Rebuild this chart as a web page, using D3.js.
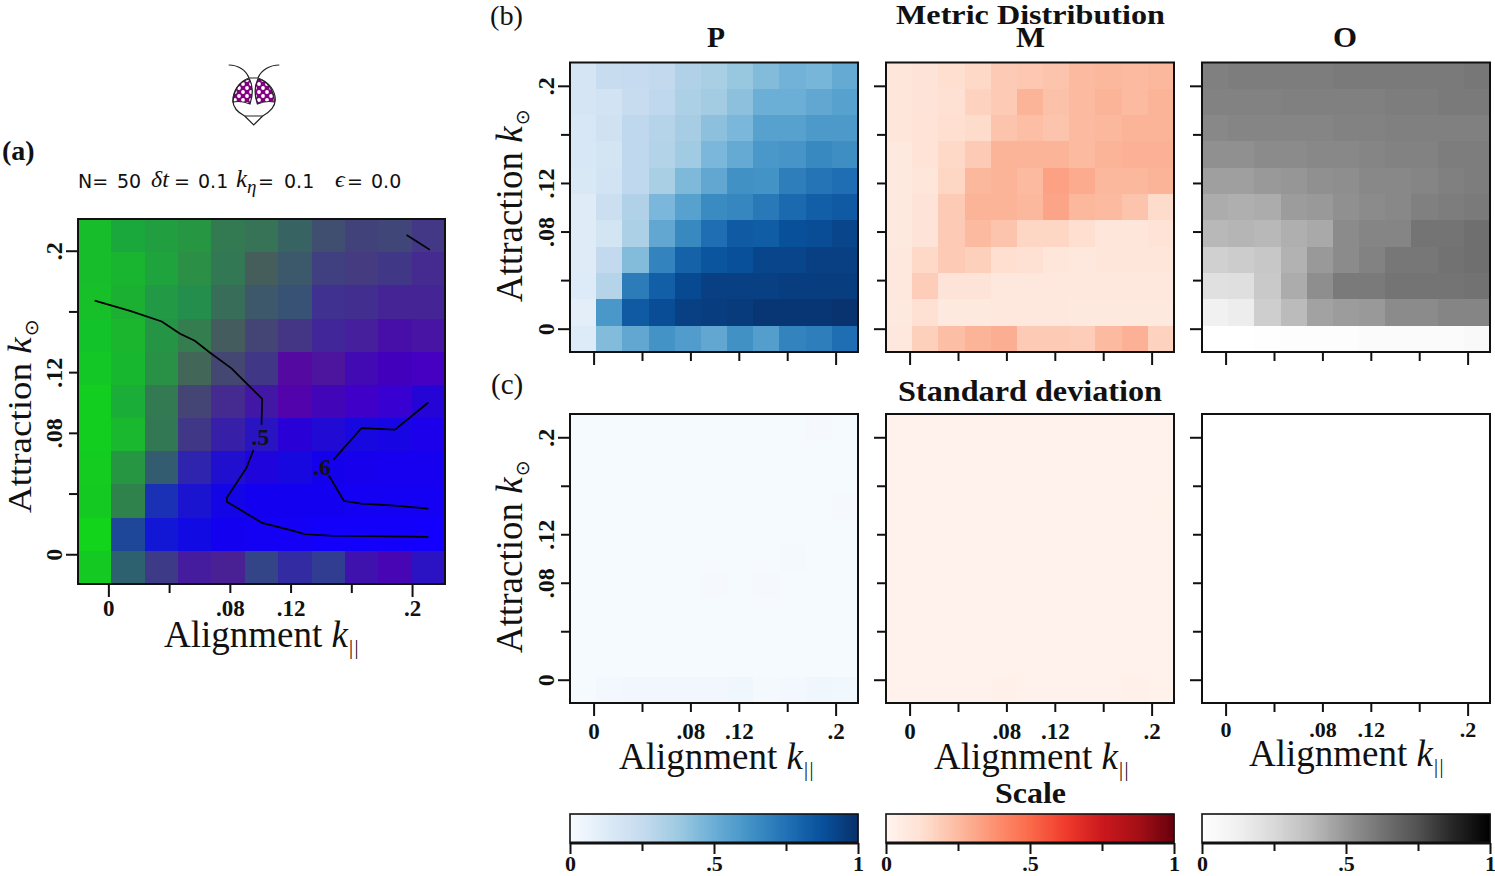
<!DOCTYPE html>
<html>
<head>
<meta charset="utf-8">
<script src="https://cdnjs.cloudflare.com/ajax/libs/d3/7.8.5/d3.min.js"></script>
<style>
body { margin: 0; background: #fff; }
text { font-family: "Liberation Serif", serif; fill: #111; }
.tick line { stroke: #111; stroke-width: 2px; }
.tick text { font-weight: bold; }
</style>
</head>
<body>
<svg width="1495" height="876"></svg>
<script>
// alignment / attraction ticks
var kTicks = [0, 0.04, 0.08, 0.12, 0.16, 0.2];
var kLabelled = [0, 0.08, 0.12, 0.2];
var scaleTicks = [0, 0.25, 0.5, 0.75, 1];
var scaleLabelled = [0, 0.5, 1];

// rows run top (.2 attraction) to bottom (0 attraction), 11 cells each
var polar = [
    [.17,.24,.25,.26,.32,.34,.39,.44,.48,.47,.52],
    [.17,.19,.24,.27,.33,.36,.42,.50,.50,.53,.56],
    [.16,.20,.27,.30,.35,.42,.46,.56,.56,.59,.59],
    [.16,.18,.27,.31,.37,.46,.52,.60,.61,.66,.64],
    [.15,.19,.27,.34,.45,.53,.63,.62,.70,.74,.76],
    [.12,.22,.32,.46,.56,.65,.67,.72,.78,.82,.84],
    [.12,.18,.33,.53,.66,.76,.84,.83,.88,.89,.92],
    [.12,.26,.44,.68,.81,.86,.88,.92,.92,.94,.94],
    [.13,.30,.71,.82,.90,.94,.94,.94,.95,.95,.95],
    [.10,.60,.84,.89,.94,.95,.96,.98,.98,.98,.99],
    [.13,.44,.53,.62,.58,.53,.63,.57,.68,.70,.76]
];
var milling = [
    [.09,.10,.13,.15,.20,.21,.22,.25,.26,.25,.26],
    [.09,.10,.12,.17,.20,.27,.23,.25,.27,.25,.27],
    [.09,.11,.13,.14,.22,.24,.22,.25,.26,.27,.27],
    [.07,.11,.15,.20,.27,.27,.27,.25,.27,.28,.28],
    [.07,.09,.16,.26,.27,.25,.33,.30,.26,.26,.27],
    [.07,.10,.20,.27,.27,.26,.32,.26,.25,.22,.14],
    [.07,.10,.20,.25,.22,.16,.16,.13,.09,.09,.11],
    [.08,.15,.20,.18,.13,.12,.09,.08,.09,.09,.09],
    [.08,.19,.10,.10,.08,.08,.08,.08,.08,.08,.08],
    [.07,.12,.07,.07,.08,.08,.08,.07,.07,.07,.07],
    [.08,.18,.24,.27,.29,.20,.20,.19,.25,.28,.17]
];
var order = [
    [.58,.59,.59,.59,.59,.60,.60,.60,.60,.60,.61],
    [.57,.57,.57,.58,.58,.58,.58,.59,.59,.60,.60],
    [.55,.56,.56,.56,.56,.57,.57,.58,.58,.58,.58],
    [.52,.52,.54,.54,.55,.55,.56,.57,.57,.59,.59],
    [.47,.47,.49,.50,.52,.53,.55,.55,.56,.58,.59],
    [.43,.42,.43,.48,.49,.52,.54,.55,.58,.59,.60],
    [.39,.40,.39,.42,.44,.54,.56,.56,.62,.62,.64],
    [.29,.31,.33,.41,.49,.54,.57,.61,.61,.63,.64],
    [.21,.22,.32,.43,.53,.60,.60,.62,.62,.62,.63],
    [.12,.14,.30,.38,.46,.48,.49,.54,.54,.56,.56],
    [.00,.00,.01,.02,.02,.02,.03,.03,.03,.03,.05]
];
var polarStd = [
    [.008,.008,.008,.008,.008,.008,.008,.008,.008,.012,.009],
    [.008,.008,.008,.008,.008,.008,.008,.008,.008,.008,.009],
    [.008,.008,.008,.008,.008,.008,.008,.008,.008,.011,.009],
    [.008,.008,.008,.008,.011,.008,.011,.011,.011,.008,.012],
    [.008,.008,.008,.008,.010,.010,.008,.008,.008,.008,.011],
    [.008,.008,.008,.008,.010,.010,.010,.010,.014,.008,.009],
    [.008,.008,.008,.011,.008,.012,.008,.012,.008,.008,.008],
    [.008,.008,.010,.011,.008,.008,.008,.008,.008,.008,.008],
    [.008,.011,.011,.011,.008,.008,.008,.008,.008,.008,.008],
    [.008,.008,.008,.008,.008,.008,.008,.008,.008,.008,.008],
    [.008,.024,.028,.028,.028,.028,.040,.014,.024,.040,.033]
];
var millingStd = [
    [.015,.015,.015,.015,.015,.015,.015,.015,.015,.015,.016],
    [.015,.015,.015,.015,.015,.015,.015,.015,.015,.015,.016],
    [.015,.015,.015,.015,.015,.015,.015,.015,.015,.015,.016],
    [.015,.015,.015,.015,.015,.015,.015,.015,.015,.016,.019],
    [.015,.015,.015,.015,.015,.015,.016,.016,.016,.016,.017],
    [.015,.015,.016,.016,.016,.016,.016,.016,.016,.016,.017],
    [.015,.015,.015,.016,.016,.016,.016,.016,.016,.016,.017],
    [.015,.015,.015,.015,.015,.015,.016,.016,.016,.016,.016],
    [.015,.015,.015,.015,.015,.015,.015,.015,.015,.015,.016],
    [.015,.015,.015,.015,.015,.015,.015,.015,.015,.015,.016],
    [.015,.016,.016,.016,.028,.016,.016,.016,.016,.030,.020]
];
var orderStd = d3.range(11).map(() => [.001,.001,.001,.001,.001,.001,.001,.001,.001,.001,.001]);

// order contours, in [column, row] cell units, broken where the labels sit
var contourHalfLeft = [[0,1.96],[1.06,2.27],[2.01,2.59],[2.56,2.96],[3,3.17],[3.46,3.53],[4.1,4],[5.02,4.92],[5,5.7]];
var contourHalfRight = [[4.76,6.46],[4.55,7],[3.96,7.9],[3.96,8.02],[5.02,8.66],[5.96,8.9],[6.3,9],[7.06,9.04],[10,9.08]];
var contourSixUpper = [[10,5.03],[9,5.85],[8,5.8],[7.16,6.75]];
var contourSixLower = [[7.02,7.23],[7.47,8],[8,8.08],[9,8.14],[10,8.23]];
var contourSixCorner = [[9.35,-0.02],[10.05,0.43]];

var svg = d3.select('svg');
var cells = d3.range(11);

function brewerScale(colors) {
    return d3.scaleLinear().domain(colors.map((c, i) => i / (colors.length - 1))).range(colors);
}
var blues = brewerScale(d3.schemeBlues[9]);
var reds = brewerScale(d3.schemeReds[9]);
var greys = brewerScale(d3.schemeGreys[9]);

// heatmap with frame and ticks
function heatmap(box, rows, colorOf, opt) {
    var col = d3.scaleBand().domain(cells).range([box.x0, box.x1]);
    var row = d3.scaleBand().domain(cells).range([box.y0, box.y1]);
    var flat = rows.flatMap((r, i) => r.map((v, j) => ({ i: i, j: j, v: v })));

    svg.append('g').selectAll('rect').data(flat).join('rect')
        .attr('x', d => col(d.j))
        .attr('y', d => row(d.i))
        .attr('width', col.bandwidth())
        .attr('height', row.bandwidth())
        .attr('shape-rendering', 'crispEdges')
        .attr('fill', d => colorOf(d));

    var kx = d3.scaleLinear().domain(opt.xDomain).range([box.x0, box.x1]);
    var ky = d3.scaleLinear().domain(opt.yDomain).range([box.y1, box.y0]);
    var fmt = v => kLabelled.includes(v) ? String(v).replace('0.', '.') : '';

    var gx = svg.append('g')
        .attr('transform', `translate(0,${box.y1})`)
        .call(d3.axisBottom(kx).tickValues(kTicks).tickFormat(opt.xLabels ? fmt : '').tickSize(9));
    gx.select('.domain').remove();
    gx.selectAll('.tick line').attr('y2', d => (d === 0 || d === 0.2) ? 13 : 9);
    gx.selectAll('.tick text')
        .attr('y', opt.xLabelY).attr('dy', 0)
        .attr('font-size', opt.xFont || 23);

    var gy = svg.append('g')
        .attr('transform', `translate(${box.x0},0)`)
        .call(d3.axisLeft(ky).tickValues(kTicks).tickFormat(opt.yLabels ? fmt : '').tickSize(9));
    gy.select('.domain').remove();
    gy.selectAll('.tick line').attr('x2', d => (d === 0 || d === 0.2) ? -12 : -9);
    gy.selectAll('.tick text')
        .attr('x', 0).attr('dy', 0)
        .attr('y', -16.5)
        .attr('text-anchor', 'middle')
        .attr('font-size', 24)
        .attr('transform', 'rotate(-90)');

    svg.append('rect')
        .attr('x', box.x0).attr('y', box.y0)
        .attr('width', box.x1 - box.x0).attr('height', box.y1 - box.y0)
        .attr('fill', 'none').attr('stroke', '#111').attr('stroke-width', 2);
}

function alignmentLabel(x, y) {
    var t = svg.append('text').attr('x', x).attr('y', y).attr('font-size', 37);
    t.append('tspan').text('Alignment ');
    t.append('tspan').attr('font-style', 'italic').text('k');
    t.append('tspan').attr('font-size', 20).attr('dy', 7).attr('dx', 1).attr('letter-spacing', 1.5).text('||');
}

function attractionLabel(x, y, size) {
    var t = svg.append('text')
        .attr('transform', `translate(${x},${y}) rotate(-90) scale(${37 / size},1)`)
        .attr('font-size', size);
    t.append('tspan').text('Attraction ');
    t.append('tspan').attr('font-style', 'italic').text('k');
    t.append('tspan').style('font-family', 'DejaVu Sans').attr('font-size', 19).attr('dy', 7).attr('dx', 1).text('\u2299');
}

function title(text, x, y, width, size) {
    svg.append('text')
        .attr('x', x).attr('y', y)
        .attr('text-anchor', 'middle')
        .attr('font-weight', 'bold')
        .attr('font-size', size)
        .attr('textLength', width)
        .attr('lengthAdjust', 'spacingAndGlyphs')
        .text(text);
}

function colorbar(x0, x1, colors) {
    var s = d3.scaleLinear().domain([0, 1]).range([x0, x1]);
    var steps = d3.range(0, 144).map(i => i / 144);
    svg.append('g').selectAll('rect').data(steps).join('rect')
        .attr('x', d => s(d))
        .attr('y', 814)
        .attr('width', (x1 - x0) / 144 + 0.5)
        .attr('height', 29)
        .attr('fill', d => colors(d + 1 / 288));
    var g = svg.append('g')
        .attr('transform', 'translate(0,843)')
        .call(d3.axisBottom(s).tickValues(scaleTicks)
            .tickFormat(v => scaleLabelled.includes(v) ? String(v).replace('0.', '.') : '').tickSize(11));
    g.select('.domain').remove();
    g.selectAll('.tick line').attr('y2', d => scaleLabelled.includes(d) ? 11 : 8);
    g.selectAll('.tick text').attr('y', 28).attr('dy', 0).attr('font-size', 22);
    svg.append('rect')
        .attr('x', x0).attr('y', 814).attr('width', x1 - x0).attr('height', 29)
        .attr('fill', 'none').attr('stroke', '#111').attr('stroke-width', 1.6);
    svg.append('line')
        .attr('x1', x0).attr('x2', x1).attr('y1', 843).attr('y2', 843)
        .attr('stroke', '#111').attr('stroke-width', 3);
}

// panel (a): M on red, P on blue, the rest on green
var boxA = { x0: 78, x1: 445, y0: 219, y1: 584 };
heatmap(boxA, polar, d => {
    var p = d.v, m = milling[d.i][d.j];
    return d3.rgb(255 * m, 255 * Math.max(0, 1 - p - m), 255 * p);
}, { xDomain: [-0.02, 0.2217], yDomain: [-0.0196, 0.2209], xLabels: true, yLabels: true, xLabelY: 32 });

var gridX = d3.scaleLinear().domain([-0.5, 10.5]).range([boxA.x0, boxA.x1]);
var gridY = d3.scaleLinear().domain([-0.5, 10.5]).range([boxA.y0, boxA.y1]);
var contourLine = d3.line().x(d => gridX(d[0])).y(d => gridY(d[1]));
[contourHalfLeft, contourHalfRight, contourSixUpper, contourSixLower, contourSixCorner].forEach(function (c) {
    svg.append('path')
        .attr('d', contourLine(c))
        .attr('fill', 'none').attr('stroke', '#000').attr('stroke-width', 1.7);
});
svg.append('text').attr('x', gridX(4.96)).attr('y', gridY(6.07)).attr('dy', '.35em')
    .attr('text-anchor', 'middle').attr('font-size', 24).attr('font-weight', 'bold').text('.5');
svg.append('text').attr('x', gridX(6.81)).attr('y', gridY(6.97)).attr('dy', '.35em')
    .attr('text-anchor', 'middle').attr('font-size', 24).attr('font-weight', 'bold').text('.6');

alignmentLabel(164, 647);
attractionLabel(31, 513, 34.5);

// panels (b) and (c)
var xD = [-0.0195, 0.2185], yD = [-0.0192, 0.2192];
var xs = [[570, 858], [886, 1174], [1202, 1490]];
var sets = [[polar, blues], [milling, reds], [order, greys]];
var setsStd = [polarStd, millingStd, orderStd];

sets.forEach(function (s, n) {
    heatmap({ x0: xs[n][0], x1: xs[n][1], y0: 62.5, y1: 352 }, s[0], d => s[1](d.v),
        { xDomain: xD, yDomain: yD, xLabels: false, yLabels: n === 0 });
    heatmap({ x0: xs[n][0], x1: xs[n][1], y0: 414, y1: 703 }, setsStd[n], d => s[1](d.v),
        { xDomain: xD, yDomain: yD, xLabels: true, yLabels: n === 0, xLabelY: n === 2 ? 34 : 36, xFont: n === 2 ? 22 : 23 });
    colorbar(xs[n][0], xs[n][1], s[1]);
});

alignmentLabel(619, 769);
alignmentLabel(934, 769);
alignmentLabel(1249, 766);
attractionLabel(522, 302, 37);
attractionLabel(522, 653, 37);

title('Metric Distribution', 1030.5, 24, 269, 27);
title('P', 716, 47, 18, 30);
title('M', 1030.5, 47, 29, 30);
title('O', 1345, 47, 24, 30);
title('Standard deviation', 1030, 401, 264, 30);
title('Scale', 1030.5, 803, 71, 30);

svg.append('text').attr('x', 2).attr('y', 160).attr('font-size', 28).attr('font-weight', 'bold').text('(a)');
svg.append('text').attr('x', 490).attr('y', 24.5).attr('font-size', 27)
    .attr('textLength', 33).attr('lengthAdjust', 'spacingAndGlyphs').text('(b)');
svg.append('text').attr('x', 491).attr('y', 394).attr('font-size', 29).text('(c)');

// parameter line above panel (a)
var paramsSans = [['N=', 78], ['50', 117], ['=', 174], ['0.1', 198], ['=', 258], ['0.1', 284], ['=', 347], ['0.0', 371]];
var paramsMath = [['\u03b4t', 151, 24], ['k', 236, 25], ['\u03b7', 247, 19], ['\u03f5', 335, 24]];
paramsSans.forEach(function (p) {
    svg.append('text').attr('x', p[1]).attr('y', 188).attr('font-size', 19)
        .style('font-family', 'DejaVu Sans').text(p[0]);
});
paramsMath.forEach(function (p) {
    svg.append('text').attr('x', p[1]).attr('y', p[0] === '\u03b7' ? 193 : 187).attr('font-size', p[2])
        .attr('font-style', 'italic').text(p[0]);
});

// fly head icon
var defs = svg.append('defs');
var pat = defs.append('pattern').attr('id', 'eyeDots').attr('patternUnits', 'userSpaceOnUse')
    .attr('width', 8).attr('height', 8).attr('patternTransform', 'translate(1,2)');
pat.append('rect').attr('width', 8).attr('height', 8).attr('fill', '#800080');
pat.append('circle').attr('cx', 2).attr('cy', 2).attr('r', 1.9).attr('fill', '#fff');
pat.append('circle').attr('cx', 6).attr('cy', 6).attr('r', 1.9).attr('fill', '#fff');

var fly = svg.append('g').attr('fill', 'none').attr('stroke', '#222').attr('stroke-width', 1.2);
fly.append('path').attr('fill', '#fff')
    .attr('d', 'M249,78 L258,78 C270,82 275.5,92 275.3,100 C275,108 268,113 262.7,116 L244.7,116 C239,113 232.5,108 233,100 C233,92 238,82 249,78Z');
fly.append('path').attr('d', 'M244.7,116 L253.7,125 L262.7,116');
fly.append('path').attr('d', 'M228.7,65 C238,65 246,70 249,78');
fly.append('path').attr('d', 'M279.3,65 C270,65 261,70 258,78');
fly.append('path').attr('fill', 'url(#eyeDots)')
    .attr('d', 'M249.5,79 C239,81 233.5,91 233,102 C238,101 245,102 250,104 C253,95 253,86 249.5,79Z');
fly.append('path').attr('fill', 'url(#eyeDots)')
    .attr('d', 'M257.9,79 C268.4,81 273.9,91 274.4,102 C269.4,101 262.4,102 257.4,104 C254.4,95 254.4,86 257.9,79Z');
</script>
</body>
</html>
